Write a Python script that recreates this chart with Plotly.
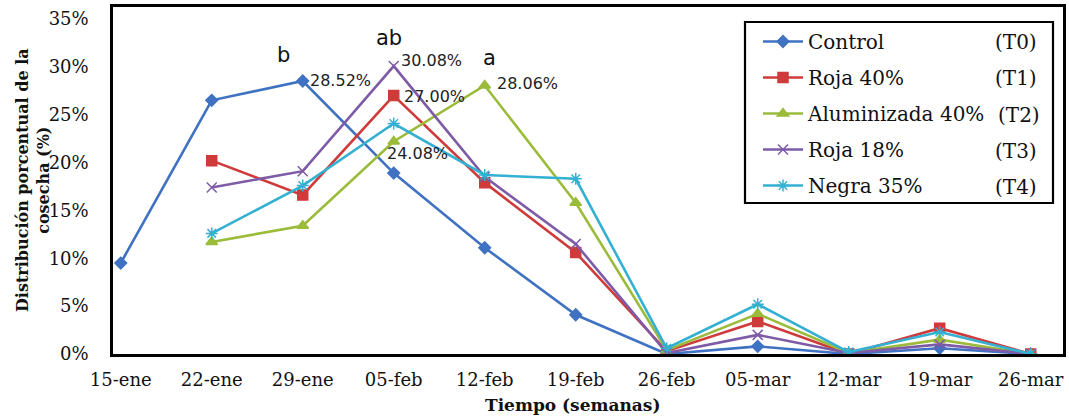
import plotly.graph_objects as go

weeks = ["15-ene", "22-ene", "29-ene", "05-feb", "12-feb", "19-feb",
         "26-feb", "05-mar", "12-mar", "19-mar", "26-mar"]

control = [9.5, 26.5, 28.52, 18.9, 11.1, 4.1, 0.0, 0.8, 0.0, 0.6, 0.0]
roja40 = [None, 20.2, 16.6, 27.00, 17.9, 10.6, 0.3, 3.4, 0.0, 2.7, 0.0]
alum40 = [None, 11.7, 13.4, 22.2, 28.06, 15.8, 0.4, 4.2, 0.1, 1.5, 0.0]
roja18 = [None, 17.4, 19.1, 30.08, 18.5, 11.5, 0.1, 2.0, 0.1, 1.0, 0.0]
negra35 = [None, 12.6, 17.6, 24.08, 18.7, 18.3, 0.6, 5.2, 0.2, 2.3, 0.0]

series_names = ["Control", "Roja 40%", "Aluminizada 40%", "Roja 18%", "Negra 35%"]
series_codes = ["(T0)", "(T1)", "(T2)", "(T3)", "(T4)"]
series_values = [control, roja40, alum40, roja18, negra35]

y_ticks = [0, 5, 10, 15, 20, 25, 30, 35]
y_tick_text = ["0%", "5%", "10%", "15%", "20%", "25%", "30%", "35%"]

colors = ["#3F72C2", "#CF3B3B", "#9BBB3B", "#7E5BA6", "#33B0D2"]
symbols = ["diamond", "square", "triangle-up", "x-thin-open", "asterisk-open"]
sizes = [9, 10, 10, 10, 10]

serif = "DejaVu Serif"
sans = "DejaVu Sans"

W, H = 1069, 420
ML, MR, MT, MB = 113, 6, 7, 66
PW, PH = W - ML - MR, H - MT - MB


def px_x(page_x):
    return (page_x - ML) / PW


def px_y(page_y):
    return 1 - (page_y - MT) / PH


fig = go.Figure()
for i, (name, vals) in enumerate(zip(series_names, series_values)):
    fig.add_trace(go.Scatter(
        x=list(range(len(weeks))), y=vals, name=name, mode="lines+markers",
        legendgroup=f"g{i}",
        line=dict(color=colors[i], width=2.6),
        marker=dict(symbol=symbols[i], size=sizes[i], color=colors[i],
                    line=dict(color=colors[i], width=1.5)),
        connectgaps=False,
    ))

# value labels: text, series index, x index, xshift, yshift
value_labels = [
    ("28.52%", 0, 2, 5, 0),
    ("30.08%", 3, 3, 5, 6),
    ("27.00%", 1, 3, 8, -1),
    ("24.08%", 4, 3, -9, -30),
    ("28.06%", 2, 4, 10, 2),
]
for txt, si, xi, xs_, ys_ in value_labels:
    fig.add_annotation(x=xi, y=series_values[si][xi], text=txt, showarrow=False,
                       xanchor="left", yanchor="middle", xshift=xs_, yshift=ys_,
                       font=dict(family=sans, size=16, color="#222222"))

letter_labels = [
    ("b", 0, 2, -19, 26),
    ("ab", 3, 3, -5, 28),
    ("a", 2, 4, 5, 27),
]
for txt, si, xi, xs_, ys_ in letter_labels:
    fig.add_annotation(x=xi, y=series_values[si][xi], text=txt, showarrow=False,
                       xanchor="center", yanchor="middle", xshift=xs_, yshift=ys_,
                       font=dict(family=sans, size=21, color="#111111"))

# legend frame
fig.add_shape(type="rect", xref="paper", yref="paper",
              x0=px_x(745), x1=px_x(1053), y0=px_y(203), y1=px_y(22),
              line=dict(color="black", width=2.2), fillcolor="white", layer="above")

# treatment codes column of the legend
legend_rows_px = [42, 78, 114.5, 150.5, 187]
code_x = [993, 993, 996, 993, 993]
for code, ypx, xpx in zip(series_codes, legend_rows_px, code_x):
    fig.add_annotation(xref="paper", yref="paper", x=px_x(xpx), y=px_y(ypx),
                       text=code, showarrow=False, xanchor="left", yanchor="middle",
                       font=dict(family=serif, size=20, color="#111111"))

# axis titles
fig.add_annotation(xref="paper", yref="paper", x=px_x(33), y=px_y(180),
                   text="<b>Distribución porcentual de la<br>cosecha (%)</b>",
                   textangle=-90, showarrow=False, xanchor="center", yanchor="middle",
                   font=dict(family=serif, size=16, color="#111111"))
fig.add_annotation(xref="paper", yref="paper", x=px_x(572), y=px_y(405),
                   text="<b>Tiempo (semanas)</b>", showarrow=False,
                   xanchor="center", yanchor="middle",
                   font=dict(family=serif, size=17, color="#111111"))

fig.update_layout(
    width=W, height=H,
    margin=dict(l=ML, r=MR, t=MT, b=MB, autoexpand=False),
    paper_bgcolor="white", plot_bgcolor="white",
    showlegend=True,
    legend=dict(x=px_x(758), y=px_y(22), xanchor="left", yanchor="top",
                bgcolor="rgba(0,0,0,0)", borderwidth=0,
                font=dict(family=serif, size=20, color="#111111"),
                tracegroupgap=7, itemwidth=40),
    xaxis=dict(
        tickmode="array", tickvals=list(range(len(weeks))), ticktext=weeks,
        range=[-0.085, 10.355], showgrid=False, zeroline=False,
        showline=True, linecolor="black", linewidth=2.5, mirror=True,
        ticks="", tickfont=dict(family=serif, size=18, color="#111111"),
        ticklabelstandoff=8, automargin=False,
    ),
    yaxis=dict(
        range=[0, 36.25], tickmode="array", tickvals=y_ticks, ticktext=y_tick_text,
        showgrid=False, zeroline=False,
        showline=True, linecolor="black", linewidth=2.5, mirror=True,
        ticks="", tickfont=dict(family=serif, size=18, color="#111111"),
        ticklabelstandoff=18, automargin=False,
    ),
)

fig.write_html(
    "out.html",
    config={"displayModeBar": False},
    post_script="document.body.style.margin='0px';document.body.style.overflow='hidden';",
)
